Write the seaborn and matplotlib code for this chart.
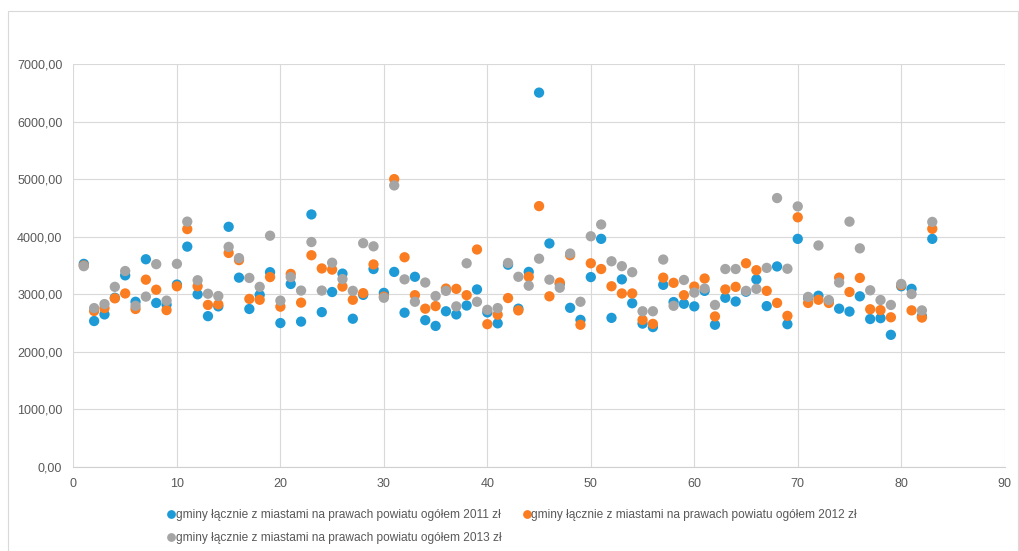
import matplotlib
matplotlib.use("Agg")
import matplotlib.pyplot as plt
from matplotlib.patches import Rectangle
from matplotlib.ticker import FuncFormatter, MultipleLocator
import pandas as pd
import seaborn as sns

# numer gminy (1..83)
idx = list(range(1, 84))

val_2011 = [3530, 2535, 2650, 2940, 3330, 2870, 3610, 2850, 2820, 3170,
            3830, 3000, 2620, 2790, 4175, 3290, 2745, 2990, 3385, 2500,
            3180, 2525, 4390, 2690, 3040, 3360, 2575, 2990, 3440, 3025,
            3390, 2680, 3305, 2550, 2450, 2705, 2650, 2805, 3085, 2685,
            2495, 3515, 2750, 3390, 6510, 3885, 3180, 2765, 2555, 3300,
            3965, 2590, 3260, 2845, 2490, 2430, 3165, 2865, 2835, 2790,
            3060, 2470, 2940, 2875, 3045, 3260, 2795, 3485, 2480, 3965,
            2940, 2975, 2880, 2750, 2700, 2965, 2570, 2585, 2295, 3140,
            3095, 2620, 3965]

val_2012 = [3500, 2710, 2760, 2930, 3015, 2745, 3255, 3080, 2725, 3140,
            4135, 3140, 2815, 2825, 3720, 3595, 2920, 2905, 3300, 2785,
            3355, 2855, 3680, 3450, 3430, 3135, 2905, 3020, 3520, 2960,
            5005, 3645, 2985, 2750, 2795, 3100, 3095, 2985, 3780, 2480,
            2645, 2935, 2720, 3305, 4535, 2965, 3205, 3680, 2470, 3540,
            3440, 3140, 3015, 3015, 2555, 2485, 3290, 3200, 2985, 3135,
            3275, 2615, 3085, 3130, 3540, 3420, 3060, 2850, 2625, 4340,
            2850, 2905, 2850, 3290, 3040, 3285, 2740, 2725, 2600, 3160,
            2720, 2595, 4140]

val_2013 = [3490, 2760, 2830, 3130, 3405, 2800, 2960, 3525, 2890, 3530,
            4265, 3245, 3010, 2970, 3825, 3630, 3285, 3130, 4020, 2890,
            3300, 3065, 3910, 3065, 3550, 3265, 3060, 3890, 3835, 2940,
            4895, 3260, 2870, 3205, 2970, 3060, 2790, 3540, 2870, 2730,
            2760, 3545, 3305, 3150, 3620, 3255, 3115, 3710, 2870, 4010,
            4215, 3575, 3490, 3385, 2705, 2705, 3605, 2800, 3250, 3030,
            3100, 2815, 3440, 3440, 3060, 3095, 3460, 4675, 3445, 4530,
            2955, 3850, 2900, 3205, 4265, 3800, 3070, 2900, 2815, 3180,
            3005, 2720, 4260]

labels = ["gminy łącznie z miastami na prawach powiatu ogółem 2011 zł",
          "gminy łącznie z miastami na prawach powiatu ogółem 2012 zł",
          "gminy łącznie z miastami na prawach powiatu ogółem 2013 zł"]
colors = ["#1e9ad6", "#fb7d22", "#a5a5a5"]

frames = []
for lab, vals in zip(labels, [val_2011, val_2012, val_2013]):
    frames.append(pd.DataFrame({"x": idx, "y": vals, "seria": lab}))
df = pd.concat(frames, ignore_index=True)

sns.set_style("white")
plt.rcParams["font.family"] = ["Liberation Sans", "DejaVu Sans"]

fig = plt.figure(figsize=(10.2, 5.51), dpi=100)
ax = fig.add_axes([0.072, 0.153, 0.913, 0.730])

sns.scatterplot(data=df, x="x", y="y", hue="seria", palette=colors,
                s=55, linewidth=0, alpha=1, ax=ax, legend=True)

ax.set_xlim(0, 90)
ax.set_ylim(0, 7000)
ax.xaxis.set_major_locator(MultipleLocator(10))
ax.yaxis.set_major_locator(MultipleLocator(1000))
ax.yaxis.set_major_formatter(FuncFormatter(lambda v, p: f"{v:.2f}".replace(".", ",")))
ax.grid(True, color="#d9d9d9", linewidth=0.8)
ax.set_axisbelow(True)
for s in ["top", "right", "left"]:
    ax.spines[s].set_visible(False)
ax.spines["bottom"].set_color("#d0d0d0")
ax.tick_params(axis="both", length=0, labelsize=9, colors="#595959", pad=8)
ax.set_xlabel("")
ax.set_ylabel("")

handles, labs = ax.get_legend_handles_labels()
ax.get_legend().remove()
order = [0, 2, 1]
fig.legend([handles[i] for i in order], [labs[i] for i in order],
           loc="upper left", bbox_to_anchor=(0.1585, 0.087), ncol=2,
           frameon=False, fontsize=8.6, labelcolor="#595959",
           handletextpad=0.1, columnspacing=1.8, handlelength=0.6,
           markerscale=0.85, labelspacing=0.95, borderpad=0)

fig.patches.append(Rectangle((0.008, -0.01), 0.99, 0.99, transform=fig.transFigure,
                             fill=False, edgecolor="#d9d9d9", linewidth=0.8))

fig.savefig("out.png", dpi=100)
